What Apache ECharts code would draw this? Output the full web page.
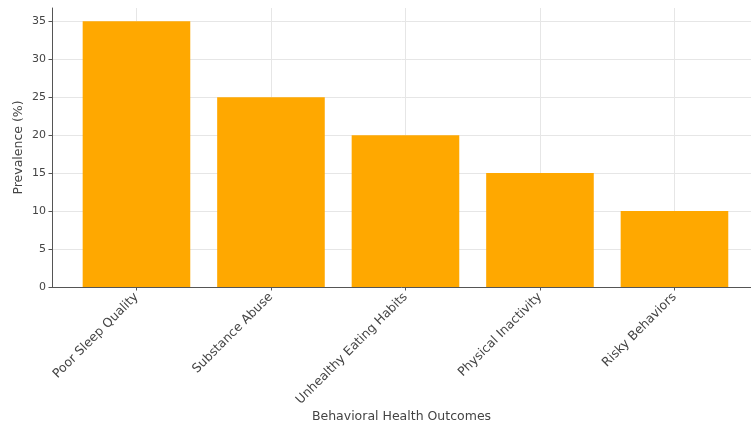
<!DOCTYPE html>
<html>
<head>
<meta charset="utf-8">
<script src="https://cdn.jsdelivr.net/npm/echarts@6/dist/echarts.min.js"></script>
<style>
  html, body { margin: 0; padding: 0; background: #fff; }
  #chart { width: 751px; height: 428px; }
</style>
</head>
<body>
<div id="chart"></div>
<script>
const FONT = '"DejaVu Sans", sans-serif';

const outcomes = ["Poor Sleep Quality", "Substance Abuse", "Unhealthy Eating Habits", "Physical Inactivity", "Risky Behaviors"];
const prevalence = [35, 25, 20, 15, 10];
const yTicks = [0, 5, 10, 15, 20, 25, 30, 35];

// matplotlib-ish limits: bars at 0..n-1, width 0.8; the right side of the
// original figure is cropped off, so xMax stops short of the usual margin
const xMin = -0.628, xMax = 4.569;
const yMax = 36.75;

const gridLeft = 52, gridRight = 0, gridTop = 8, gridBottom = 141;
const plotW = 751 - gridLeft - gridRight;
const unit = plotW / (xMax - xMin);

const chart = echarts.init(document.getElementById("chart"), null, { renderer: "canvas" });
const xIdx = outcomes.map((_, i) => i);

chart.setOption({
  animation: false,
  backgroundColor: "#fff",
  grid: {
    left: gridLeft, right: gridRight, top: gridTop, bottom: gridBottom,
    containLabel: false, outerBoundsMode: "none",
  },
  xAxis: {
    type: "value",
    min: xMin,
    max: xMax,
    name: "Behavioral Health Outcomes",
    nameLocation: "middle",
    nameGap: 123,
    nameMoveOverlap: false,
    nameTextStyle: { color: "#444", fontSize: 12.5, fontFamily: FONT },
    axisLine: { show: true, onZero: false, lineStyle: { color: "#555", width: 1 } },
    axisTick: { show: true, length: 3.5, customValues: xIdx, lineStyle: { color: "#555" } },
    axisLabel: {
      customValues: xIdx,
      rotate: 45,
      margin: 8,
      color: "#444",
      fontSize: 12.5,
      fontFamily: FONT,
      formatter: (v) => outcomes[Math.round(v)] || "",
    },
    splitLine: { show: true, lineStyle: { color: "#e6e6e6", width: 1 } },
  },
  yAxis: {
    type: "value",
    min: 0,
    max: yMax,
    name: "Prevalence (%)",
    nameLocation: "middle",
    nameGap: 27,
    nameMoveOverlap: false,
    nameTextStyle: { color: "#444", fontSize: 12.5, fontFamily: FONT },
    axisLine: { show: true, onZero: false, lineStyle: { color: "#555", width: 1 } },
    axisTick: { show: true, length: 3.5, customValues: yTicks, lineStyle: { color: "#555" } },
    axisLabel: { customValues: yTicks, margin: 6, color: "#444", fontSize: 11, fontFamily: FONT },
    splitLine: { show: true, lineStyle: { color: "#e6e6e6", width: 1 } },
  },
  series: [
    {
      type: "bar",
      data: prevalence.map((v, i) => [i, v]),
      barWidth: unit * 0.8,
      itemStyle: { color: "#FFA800" },
      z: 3,
    },
  ],
});
</script>
</body>
</html>
